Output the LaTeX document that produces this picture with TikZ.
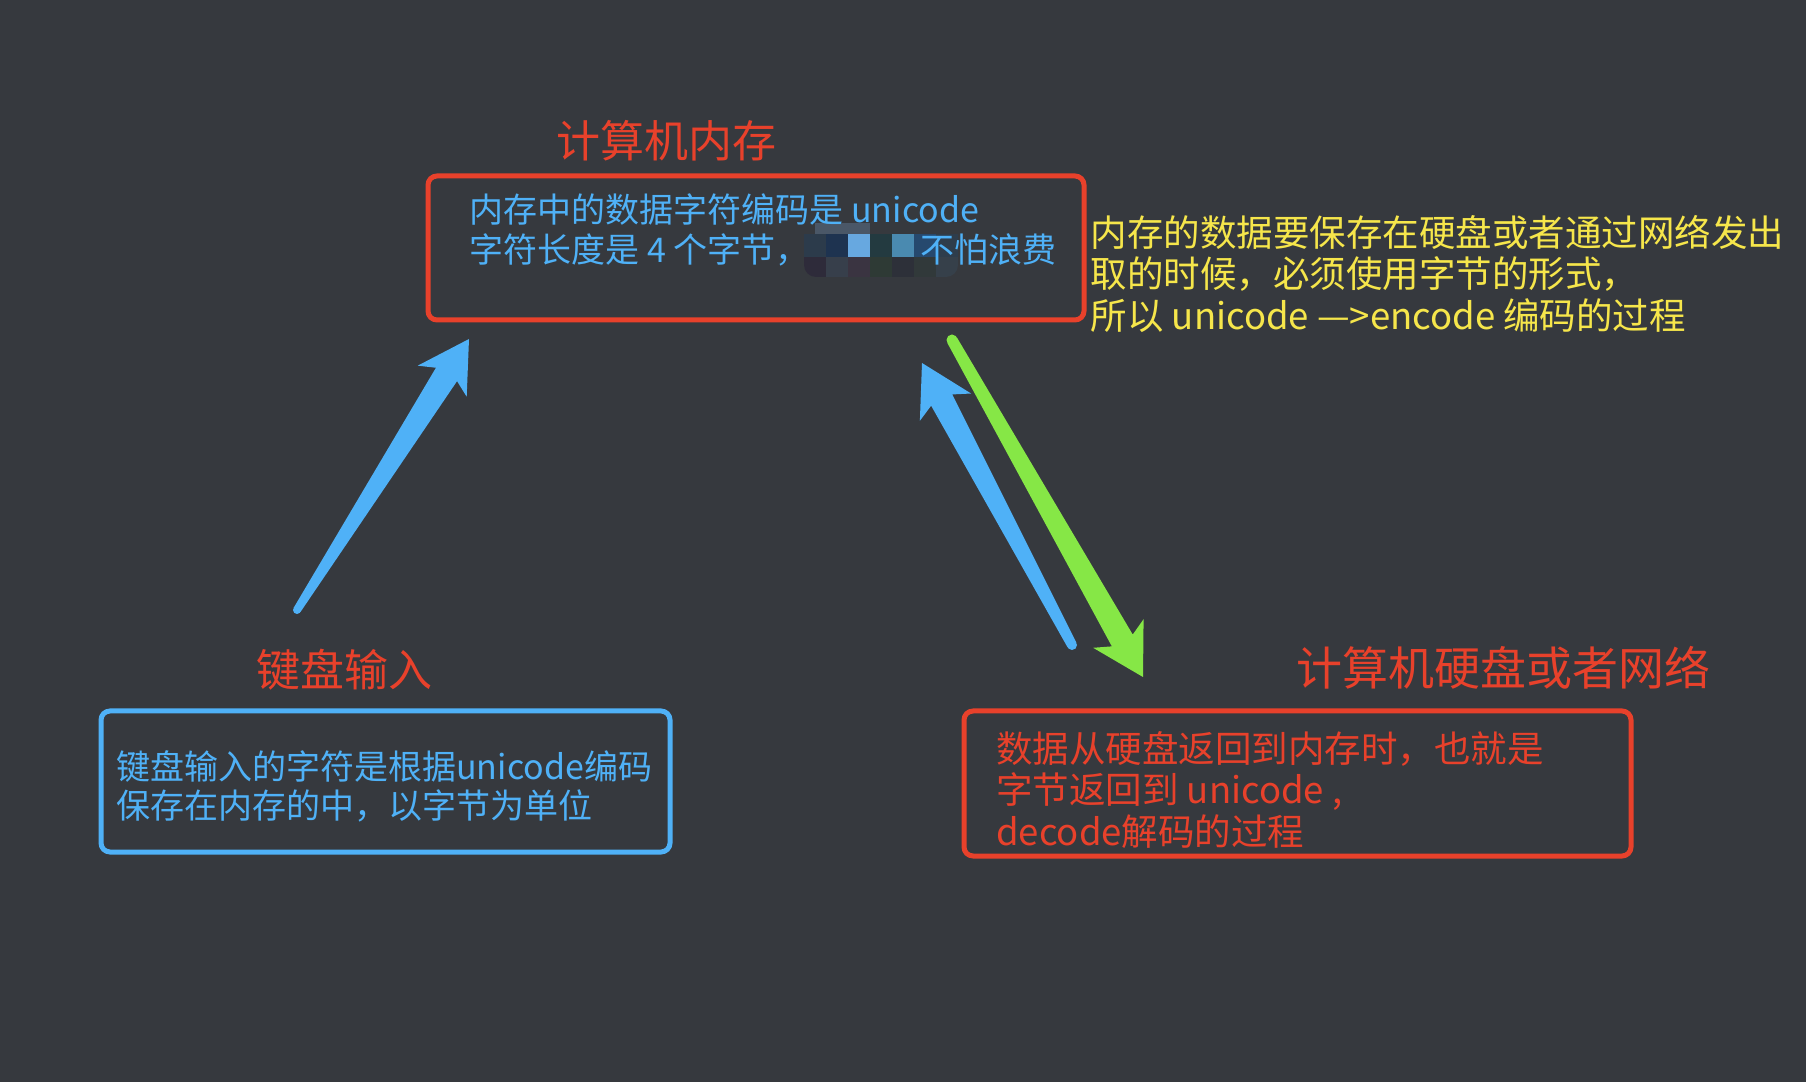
\documentclass[tikz,border=0pt]{standalone}
\usepackage{fontspec}
\setmainfont{Noto Sans CJK SC}
\usepackage{tikz}
\usetikzlibrary{positioning,calc}
\definecolor{bg}{HTML}{36393E}
\definecolor{skred}{HTML}{E8412B}
\definecolor{skblue}{HTML}{4FB1F7}
\definecolor{skgreen}{HTML}{86E746}
\definecolor{skyellow}{HTML}{F6E64B}
\definecolor{mostop}{HTML}{4A5767}

% tapered arrow: colour, tail, tip, tail half width, shaft half width
\newcommand{\skarrow}[5]{%
  \coordinate (#2-j) at ($(#3)!42pt!(#2)$);
  \coordinate (#2-b) at ($(#3)!50pt!(#2)$);
  \fill[#1] ($(#2)!#4!90:(#3)$)
    -- ($(#2-j)!#5!90:(#3)$) -- ($(#2-b)!29pt!90:(#3)$)
    -- (#3)
    -- ($(#2-b)!29pt!-90:(#3)$) -- ($(#2-j)!#5!-90:(#3)$)
    -- ($(#2)!#4!-90:(#3)$) -- cycle;
  \fill[#1] (#2) circle (#4);}

\begin{document}
\begin{tikzpicture}[x=1pt,y=1pt,
  box/.style={draw,line width=5pt,rounded corners=9pt,inner sep=0pt},
  redbox/.style={box,draw=skred},
  bluebox/.style={box,draw=skblue},
  heading/.style={text=skred,anchor=west,inner sep=0pt,font=\fontsize{44}{50}\selectfont},
  body/.style={anchor=north west,inner sep=0pt,align=left,font=\fontsize{34}{40}\selectfont},
  note/.style={body,text=skyellow,font=\fontsize{36.5}{41.5}\selectfont}
]
  \fill[bg] (0,0) rectangle (1806,1082);
  \useasboundingbox (0,0) rectangle (1806,1082);

  \node[redbox,minimum width=656pt,minimum height=144pt] (mem) at (756,834) {};
  \node[bluebox,minimum width=569pt,minimum height=141pt] (kbd) at (385.5,300.5) {};
  \node[redbox,minimum width=667pt,minimum height=145pt] (disk) at (1297.5,298.5) {};

  \node[heading] (memtitle) at ($(mem.north west)+(131,33)$) {计算机内存};
  \node[heading] (kbdtitle) at ($(kbd.north west)+(158,38.5)$) {键盘输入};
  \node[heading,font=\fontsize{46}{52}\selectfont] (disktitle) at ($(disk.north west)+(335,40.5)$) {计算机硬盘或者网络};

  % mosaic
  \begin{scope}
    \clip[rounded corners=12pt] (804,805) rectangle (958,859);
    \fill[mostop] (815,848) rectangle (870,859);
    \foreach \c [count=\i from 0] in {2C3B4B,1E3350,67A8E0,233A40,4A8AB0,26496E,2E3D4C}
      {\definecolor{mos}{HTML}{\c}\fill[mos] (804+22*\i,825) rectangle ++(22,23);}
    \foreach \c [count=\i from 0] in {2E2B3A,373F4B,3A3441,2E3A35,2D3039,31393A,36404A}
      {\definecolor{mos}{HTML}{\c}\fill[mos] (804+22*\i,805) rectangle ++(22,20);}
  \end{scope}

  \node[body,text=skblue] (memtext) at ($(mem.north west)+(44,-20.5)$)
    {内存中的数据字符编码是 unicode\\字符长度是 4 个字节，\hspace{111pt}不怕浪费};
  \node[body,text=skblue,font=\fontsize{34}{39}\selectfont] (kbdtext) at ($(kbd.north west)+(17.6,-42)$)
    {键盘输入的字符是根据unicode编码\\保存在内存的中，以字节为单位};
  \node[body,text=skred,font=\fontsize{36.5}{41.5}\selectfont] (disktext) at ($(disk.north west)+(34.6,-22.5)$)
    {数据从硬盘返回到内存时，也就是\\字节返回到 unicode ,\\decode解码的过程};
  \node[note] (encnote) at ($(mem.north east)+(4,-41.5)$)
    {内存的数据要保存在硬盘或者通过网络发出\\取的时候，必须使用字节的形式，\\所以 unicode —>encode 编码的过程};

  \coordinate (kbdtail) at (297,472);
  \coordinate (kbdtip) at (469,743);
  \coordinate (dectail) at (1072,437);
  \coordinate (dectip) at (922,719);
  \coordinate (enctail) at (952,742);
  \coordinate (enctip) at (1143,405);

  \skarrow{skblue}{kbdtail}{kbdtip}{4pt}{12.5pt}
  \skarrow{skblue}{dectail}{dectip}{5pt}{12pt}
  \skarrow{skgreen}{enctail}{enctip}{5.5pt}{12pt}
\end{tikzpicture}
\end{document}
